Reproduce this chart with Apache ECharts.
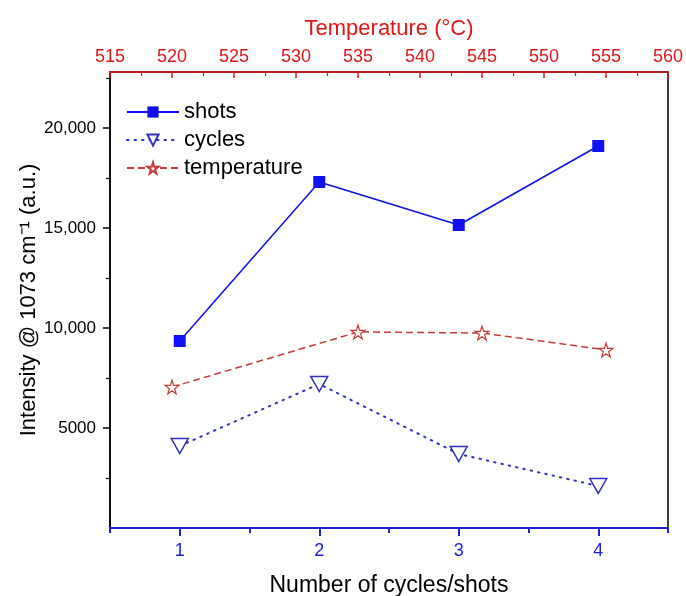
<!DOCTYPE html>
<html>
<head>
<meta charset="utf-8">
<script src="https://cdn.jsdelivr.net/npm/echarts@6/dist/echarts.min.js"></script>
<style>html,body{margin:0;padding:0;background:#fff;}#c{width:686px;height:596px;}</style>
</head>
<body>
<div id="c"></div>
<script>
const cycleShotNumbers = [1, 2, 3, 4];
const shotsValues = [9350, 17300, 15150, 19100];
const cyclesValues = [4100, 7200, 3700, 2100];
const temperatures = [520, 535, 545, 555];
const temperatureValues = [7050, 9800, 9750, 8900];
const xTickLabels = [1, 2, 3, 4];
const xMinorTicks = [0.5, 1.5, 2.5, 3.5, 4.5];
const yTickLabels = [5000, 10000, 15000, 20000];
const yMinorTicks = [2500, 7500, 12500, 17500, 22500];

const FONT = 'Liberation Sans, Arial, sans-serif';
const STAR = 'path://M50,0 L61,35 L98,35 L68,57 L79,91 L50,70 L21,91 L32,57 L2,35 L39,35 Z';
const BLUE = '#1010f0';
const BLUE2 = '#3030c0';
const RED = '#c83a3a';
const REDAX = '#e01515';
const AXBLUE = '#2020d8';

function fmtY(v) {
  if (v >= 10000) return String(v).replace(/(\d)(?=(\d{3})+$)/, '$1,');
  return String(v);
}

const chart = echarts.init(document.getElementById('c'), null, {renderer: 'canvas'});
chart.setOption({
  animation: false,
  backgroundColor: '#fff',
  grid: {left: 110, right: 18, top: 72, bottom: 68, outerBoundsMode: 'none', containLabel: false,
         show: true, borderColor: '#000', borderWidth: 1.5, backgroundColor: 'transparent'},
  legend: {
    orient: 'vertical', left: 121, top: 96, itemWidth: 52, itemHeight: 14, itemGap: 6,
    textStyle: {fontFamily: FONT, fontSize: 22, color: '#000'},
    data: ['shots', 'cycles', 'temperature']
  },
  xAxis: [
    {
      type: 'value', position: 'bottom', min: 0.5, max: 4.5,
      name: 'Number of cycles/shots', nameLocation: 'middle', nameGap: 46, nameMoveOverlap: false,
      nameTextStyle: {fontFamily: FONT, fontSize: 23, color: '#000'},
      axisLine: {show: true, onZero: false, lineStyle: {color: AXBLUE, width: 2}},
      axisTick: {show: true, length: 8, customValues: xTickLabels, lineStyle: {color: AXBLUE, width: 2}},
      axisLabel: {show: true, margin: 14, customValues: xTickLabels, fontFamily: FONT, fontSize: 18, color: AXBLUE},
      splitLine: {show: false}
    },
    {
      type: 'value', position: 'top', min: 515, max: 560, interval: 5,
      name: 'Temperature (°C)', nameLocation: 'middle', nameGap: 32, nameMoveOverlap: false,
      nameTextStyle: {fontFamily: FONT, fontSize: 22, color: REDAX},
      axisLine: {show: true, onZero: false, lineStyle: {color: REDAX, width: 1.5}},
      axisTick: {show: true, inside: true, length: 6, lineStyle: {color: REDAX, width: 1.5}},
      minorTick: {show: true, splitNumber: 2, length: 4, lineStyle: {color: REDAX, width: 1.2}},
      axisLabel: {show: true, margin: 6, fontFamily: FONT, fontSize: 18, color: REDAX},
      splitLine: {show: false}
    },
    {
      type: 'value', position: 'bottom', min: 0.5, max: 4.5,
      axisLine: {show: false, onZero: false},
      axisTick: {show: true, length: 5, customValues: xMinorTicks, lineStyle: {color: AXBLUE, width: 2}},
      axisLabel: {show: false}, splitLine: {show: false}
    }
  ],
  yAxis: [
    {
      type: 'value', position: 'left', min: 0, max: 22800,
      name: 'Intensity @ 1073 cm\u207B\u00B9 (a.u.)', nameLocation: 'middle', nameGap: 70, nameMoveOverlap: false,
      nameTextStyle: {fontFamily: FONT, fontSize: 22, color: '#000'},
      axisLine: {show: true, onZero: false, lineStyle: {color: '#000', width: 1.5}},
      axisTick: {show: true, length: 7, customValues: yTickLabels, lineStyle: {color: '#000', width: 1.5}},
      axisLabel: {show: true, margin: 14, customValues: yTickLabels, formatter: fmtY, fontFamily: FONT, fontSize: 17, color: '#000'},
      splitLine: {show: false}
    },
    {
      type: 'value', position: 'left', min: 0, max: 22800,
      axisLine: {show: false, onZero: false},
      axisTick: {show: true, length: 4, customValues: yMinorTicks, lineStyle: {color: '#000', width: 1.2}},
      axisLabel: {show: false}, splitLine: {show: false}
    }
  ],
  series: [
    {
      name: 'shots', type: 'line', xAxisIndex: 0, yAxisIndex: 0,
      data: cycleShotNumbers.map((x, i) => [x, shotsValues[i]]),
      symbol: 'rect', symbolSize: 12,
      lineStyle: {color: BLUE, width: 1.5, type: 'solid'},
      itemStyle: {color: BLUE, borderColor: BLUE, borderWidth: 0}
    },
    {
      name: 'cycles', type: 'line', xAxisIndex: 0, yAxisIndex: 0,
      data: cycleShotNumbers.map((x, i) => [x, cyclesValues[i]]),
      symbol: 'triangle', symbolRotate: 180, symbolSize: [17, 15],
      lineStyle: {color: BLUE2, width: 2, type: [1.5, 6], cap: 'round'},
      itemStyle: {color: '#fff', borderColor: BLUE2, borderWidth: 1.5}
    },
    {
      name: 'temperature', type: 'line', xAxisIndex: 1, yAxisIndex: 0,
      data: temperatures.map((x, i) => [x, temperatureValues[i]]),
      symbol: STAR, symbolSize: 14,
      lineStyle: {color: RED, width: 1.5, type: [7, 4]},
      itemStyle: {color: '#fff', borderColor: RED, borderWidth: 1.2}
    }
  ]
});
</script>
</body>
</html>
